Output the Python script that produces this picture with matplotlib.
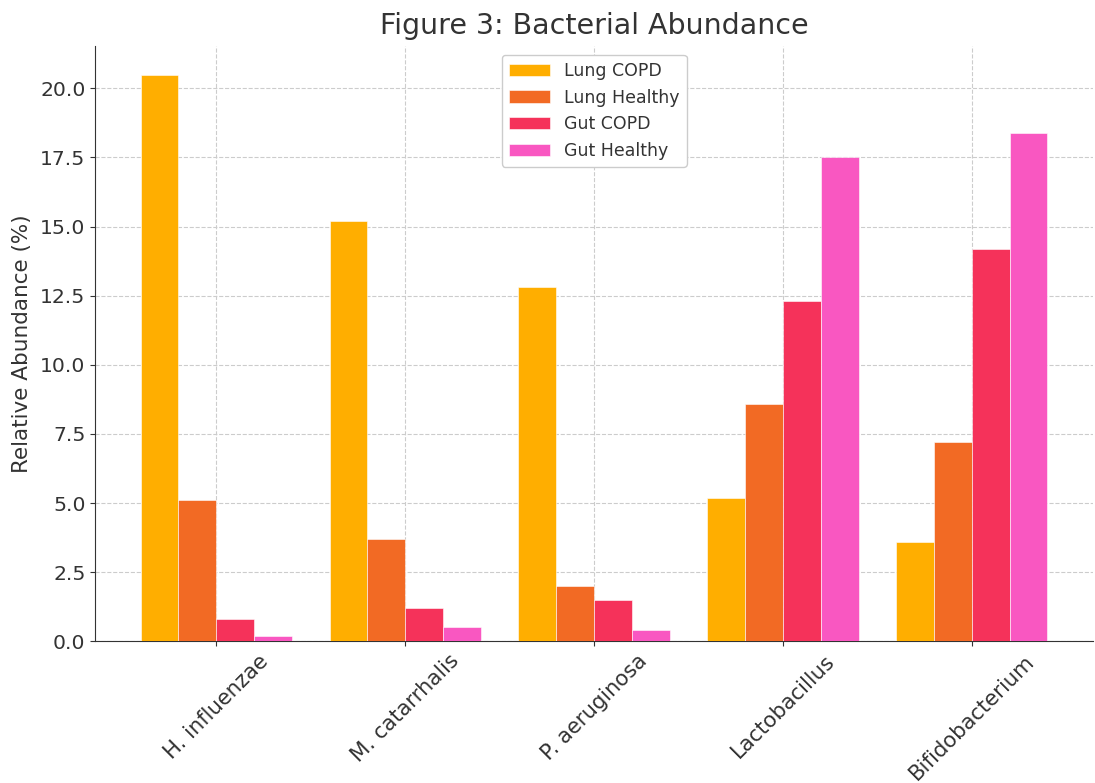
import numpy as np
import matplotlib.pyplot as plt

species = ['H. influenzae', 'M. catarrhalis', 'P. aeruginosa', 'Lactobacillus', 'Bifidobacterium']
lung_copd = [20.5, 15.2, 12.8, 5.2, 3.6]
lung_healthy = [5.1, 3.7, 2.0, 8.6, 7.2]
gut_copd = [0.8, 1.2, 1.5, 12.3, 14.2]
gut_healthy = [0.2, 0.5, 0.4, 17.5, 18.4]

series = [
    ('Lung COPD', lung_copd, '#FFAE00'),
    ('Lung Healthy', lung_healthy, '#F26A24'),
    ('Gut COPD', gut_copd, '#F5325A'),
    ('Gut Healthy', gut_healthy, '#F957C1'),
]

text_color = '#333333'
plt.rcParams['text.color'] = text_color
plt.rcParams['axes.labelcolor'] = text_color
plt.rcParams['xtick.color'] = text_color
plt.rcParams['ytick.color'] = text_color

fig, ax = plt.subplots(figsize=(10.95, 7.83), dpi=100)
fig.subplots_adjust(left=0.087, right=0.998, bottom=0.181, top=0.941)

x = np.arange(len(species))
width = 0.2
for i, (label, vals, color) in enumerate(series):
    ax.bar(x + (i - 1.5) * width, vals, width, label=label, color=color,
           edgecolor='white', linewidth=0.4, zorder=3)

ax.set_title('Figure 3: Bacterial Abundance', fontsize=20.5, pad=9)
ax.set_ylabel('Relative Abundance (%)', fontsize=15.5, labelpad=6)
ax.set_xticks(x)
ax.set_xticklabels(species, rotation=45, fontsize=15.2)
ax.tick_params(axis='y', labelsize=14.7)
ax.grid(True, linestyle='--', color='#cccccc', linewidth=0.8, zorder=0)
ax.spines['top'].set_visible(False)
ax.spines['right'].set_visible(False)
ax.spines['left'].set_color('#333333')
ax.spines['bottom'].set_color('#333333')
ax.legend(loc='upper center', fontsize=12.5, framealpha=1, handlelength=2.4)

fig.savefig('out.png', dpi=100)
